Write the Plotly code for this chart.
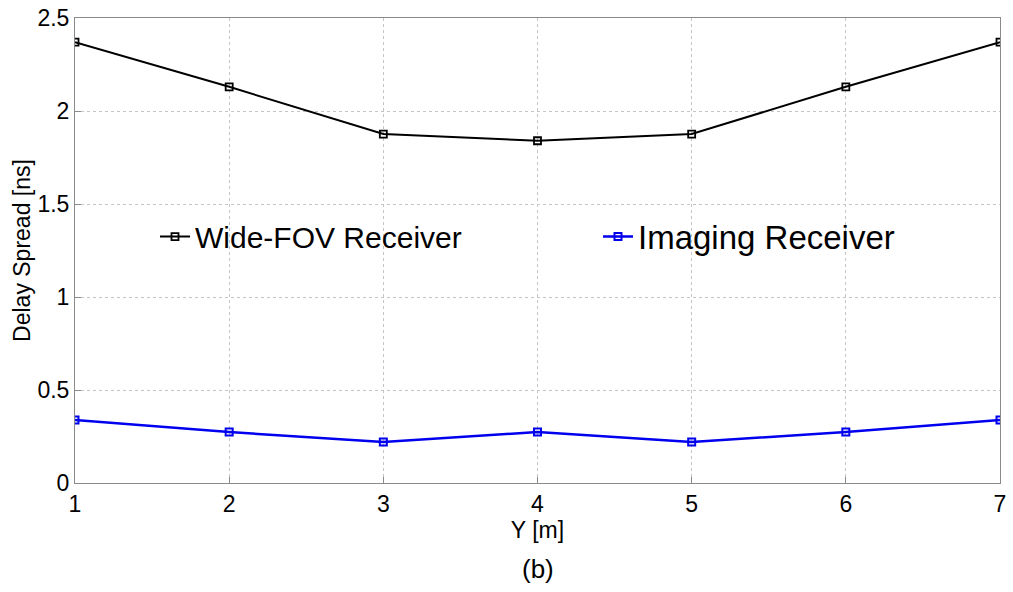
import plotly.graph_objects as go

y_pos = [1, 2, 3, 4, 5, 6, 7]
wide_fov = [2.37, 2.13, 1.876, 1.84, 1.876, 2.13, 2.37]
imaging = [0.339, 0.274, 0.22, 0.274, 0.22, 0.274, 0.339]
x_ticks = [1, 2, 3, 4, 5, 6, 7]
y_ticks = [0, 0.5, 1, 1.5, 2, 2.5]
y_tick_text = ["0", "0.5", "1", "1.5", "2", "2.5"]

FONT = "Arial, Liberation Sans, sans-serif"

fig = go.Figure()
fig.add_trace(go.Scatter(
    x=y_pos, y=wide_fov, mode="lines+markers", name="Wide-FOV Receiver",
    line=dict(color="black", width=2),
    marker=dict(symbol="square-open", size=7, color="black", line=dict(width=1.8)),
    legend="legend",
))
fig.add_trace(go.Scatter(
    x=y_pos, y=imaging, mode="lines+markers", name="Imaging Receiver",
    line=dict(color="#0000ee", width=2.5),
    marker=dict(symbol="square-open", size=7, color="#0000ee", line=dict(width=2)),
    legend="legend2",
))

axis_common = dict(
    showline=True, linecolor="#8a8a8a", linewidth=1, mirror=True,
    ticks="inside", ticklen=6, tickcolor="#8a8a8a",
    showgrid=True, gridcolor="#c4c4c4", griddash="dot", gridwidth=1,
    zeroline=False, automargin=False,
    tickfont=dict(family=FONT, size=23, color="black"),
)

fig.update_xaxes(
    range=[1, 7], tickvals=x_ticks,
    title=dict(text="Y [m]", font=dict(family=FONT, size=23, color="black"), standoff=0),
    **axis_common,
)
fig.update_yaxes(
    range=[0, 2.5], tickvals=y_ticks, ticktext=y_tick_text,
    title=dict(text="Delay Spread [ns]", font=dict(family=FONT, size=23, color="black"), standoff=0),
    **axis_common,
)

fig.add_annotation(
    text="(b)", xref="paper", yref="paper", x=0.5, y=-0.185, yanchor="middle",
    showarrow=False, font=dict(family=FONT, size=26, color="black"),
)

legend_style = dict(
    orientation="h", xanchor="left", yanchor="middle",
    bgcolor="rgba(0,0,0,0)", itemwidth=30,
)

fig.update_layout(
    width=1013, height=592,
    margin=dict(l=75, r=13, t=18, b=109),
    paper_bgcolor="white", plot_bgcolor="white",
    showlegend=True,
    legend=dict(x=0.0865, y=0.53, font=dict(family=FONT, size=30, color="black"), **legend_style),
    legend2=dict(x=0.5654, y=0.53, font=dict(family=FONT, size=33, color="black"), **legend_style),
)

fig.write_html("out.html")
